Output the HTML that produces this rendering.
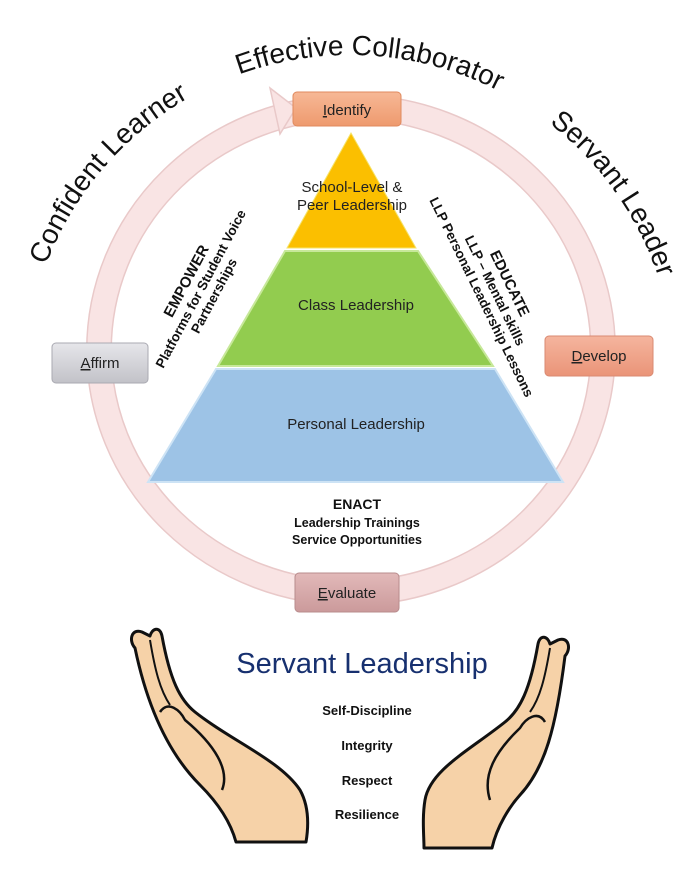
<!DOCTYPE html>
<html><head><meta charset="utf-8"><style>
html,body{margin:0;padding:0;background:#fff;}
svg{display:block;font-family:"Liberation Sans",Arial,sans-serif;}
</style></head><body>
<svg width="699" height="879" viewBox="0 0 699 879">
<defs>
<path id="arcTop" d="M 25 380 A 325 325 0 0 1 675 380"/>
<linearGradient id="gOr" x1="0" y1="0" x2="0" y2="1"><stop offset="0" stop-color="#f7b896"/><stop offset="1" stop-color="#ee9a6e"/></linearGradient>
<linearGradient id="gDev" x1="0" y1="0" x2="0" y2="1"><stop offset="0" stop-color="#f5b59e"/><stop offset="1" stop-color="#ea9478"/></linearGradient>
<linearGradient id="gGr" x1="0" y1="0" x2="0" y2="1"><stop offset="0" stop-color="#e6e6ea"/><stop offset="1" stop-color="#c2c2c8"/></linearGradient>
<linearGradient id="gEv" x1="0" y1="0" x2="0" y2="1"><stop offset="0" stop-color="#e2b9b9"/><stop offset="1" stop-color="#cb9a9b"/></linearGradient>
</defs>

<ellipse cx="351" cy="350" rx="252" ry="243" fill="none" stroke="#e9c9c9" stroke-width="26"/>
<ellipse cx="351" cy="350" rx="252" ry="243" fill="none" stroke="#f9e4e4" stroke-width="23"/>
<polygon points="270,88 296,108 280,134" fill="#f9e4e4" stroke="#e9c9c9" stroke-width="1.5"/>

<g font-size="28" fill="#111">
<text><textPath href="#arcTop" startOffset="11.5%">Confident Learner</textPath></text>
<text><textPath href="#arcTop" startOffset="52%" text-anchor="middle">Effective Collaborator</textPath></text>
<text><textPath href="#arcTop" startOffset="71%">Servant Leader</textPath></text>
</g>

<polygon points="351,133 287,248 416,248" fill="#fbbf00" stroke="#f5e36a" stroke-width="1"/>
<polygon points="285,251 418,251 493,366 218,366" fill="#92cc4f" stroke="#c7e89a" stroke-width="2"/>
<polygon points="216,369 495,369 563,482 148,482" fill="#9dc3e6" stroke="#cde3f5" stroke-width="2"/>
<text x="352" y="192" font-size="15" text-anchor="middle" fill="#222">School-Level &amp;</text>
<text x="352" y="210" font-size="15" text-anchor="middle" fill="#222">Peer Leadership</text>
<text x="356" y="310" font-size="15" text-anchor="middle" fill="#222">Class Leadership</text>
<text x="356" y="429" font-size="15" text-anchor="middle" fill="#222">Personal Leadership</text>

<g transform="translate(203,290) rotate(-62)" font-size="13.5" font-weight="bold" text-anchor="middle" fill="#111">
<text x="0" y="-14" font-size="15">EMPOWER</text>
<text x="0" y="2">Platforms for Student Voice</text>
<text x="0" y="17">Partnerships</text>
</g>
<g transform="translate(490,293) rotate(64)" font-size="13.5" font-weight="bold" text-anchor="middle" fill="#111">
<text x="0" y="-17" font-size="15">EDUCATE</text>
<text x="0" y="-1">LLP – Mental skills</text>
<text x="0" y="14">LLP Personal Leadership Lessons</text>
</g>
<g text-anchor="middle" font-weight="bold" fill="#111">
<text x="357" y="509" font-size="14">ENACT</text>
<text x="357" y="527" font-size="12.5">Leadership Trainings</text>
<text x="357" y="544" font-size="12.5">Service Opportunities</text>
</g>

<g>
<rect x="293" y="92" width="108" height="34" rx="4" fill="url(#gOr)" stroke="#e08a5e"/>
<text x="347" y="115" font-size="15" text-anchor="middle" fill="#222"><tspan text-decoration="underline">I</tspan>dentify</text>
</g>
<g>
<rect x="545" y="336" width="108" height="40" rx="4" fill="url(#gDev)" stroke="#d98a72"/>
<text x="599" y="361" font-size="15" text-anchor="middle" fill="#222"><tspan text-decoration="underline">D</tspan>evelop</text>
</g>
<g>
<rect x="52" y="343" width="96" height="40" rx="4" fill="url(#gGr)" stroke="#aaaab2"/>
<text x="100" y="368" font-size="15" text-anchor="middle" fill="#222"><tspan text-decoration="underline">A</tspan>ffirm</text>
</g>
<g>
<rect x="295" y="573" width="104" height="39" rx="4" fill="url(#gEv)" stroke="#b88c8d"/>
<text x="347" y="598" font-size="15" text-anchor="middle" fill="#222"><tspan text-decoration="underline">E</tspan>valuate</text>
</g>

<g stroke="#111" stroke-width="3" stroke-linejoin="round">
<path d="M 135 648 C 128 640 132 628 142 632 L 150 636 C 152 628 160 626 162 636 C 170 680 180 700 195 712 C 230 740 280 760 300 790 C 310 808 308 830 306 842 L 236 842 C 230 820 215 800 200 785 C 175 760 150 720 135 648 Z" fill="#f6d2a8"/>
<path d="M 160 712 C 168 700 180 710 185 720 C 215 745 230 770 222 790" fill="none" stroke-width="2.5"/>
<path d="M 150 640 C 155 670 160 690 170 705" fill="none" stroke-width="2"/>
</g>
<g stroke="#111" stroke-width="3" stroke-linejoin="round">
<path d="M 565 656 C 572 648 568 636 558 640 L 550 644 C 548 636 540 634 538 644 C 530 690 520 710 505 722 C 470 750 430 770 425 800 C 422 818 424 836 424 848 L 492 848 C 497 826 510 806 520 795 C 545 768 556 728 565 656 Z" fill="#f6d2a8"/>
<path d="M 545 722 C 538 710 526 718 520 728 C 495 752 482 775 490 800" fill="none" stroke-width="2.5"/>
<path d="M 550 648 C 545 678 540 698 530 712" fill="none" stroke-width="2"/>
</g>

<text x="362" y="673" font-size="29" text-anchor="middle" fill="#17306f">Servant Leadership</text>
<g font-size="13" font-weight="bold" text-anchor="middle" fill="#111">
<text x="367" y="715">Self-Discipline</text>
<text x="367" y="750">Integrity</text>
<text x="367" y="785">Respect</text>
<text x="367" y="819">Resilience</text>
</g>
</svg>
</body></html>
